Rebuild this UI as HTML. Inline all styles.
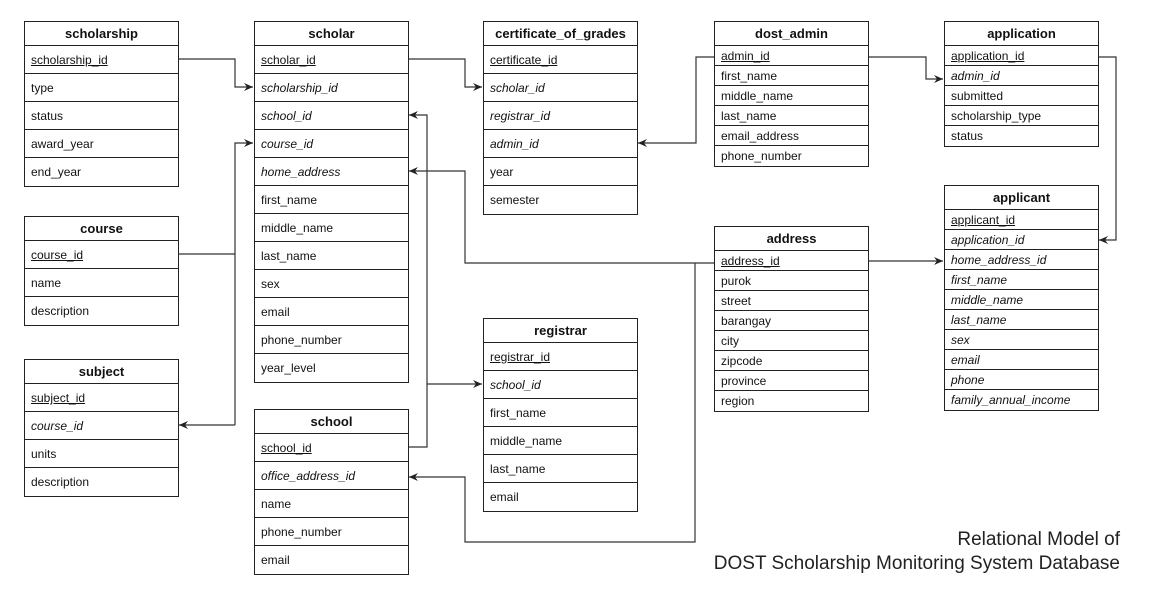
<!DOCTYPE html>
<html><head><meta charset="utf-8"><style>
body{margin:0;width:1151px;height:599px;background:#fff;position:relative;overflow:hidden;font-family:"Liberation Sans",Arial,sans-serif;color:#111}
.t{position:absolute;border:1px solid #222;box-sizing:border-box;background:#fff}
.h{height:24px;line-height:24px;text-align:center;font-weight:bold;font-size:13px;border-bottom:1px solid #222;box-sizing:border-box}
.r{box-sizing:border-box;border-bottom:1px solid #222;padding-left:6px;font-size:12px}
.r:last-child{border-bottom:none}
.k{text-decoration:underline}
.i{font-style:italic}
svg{position:absolute;left:0;top:0}
.title{position:absolute;right:31px;top:528px;text-align:right;font-size:19px;line-height:24px;color:#222}
</style></head><body>
<svg width="1151" height="599">
<defs><marker id="a" markerWidth="10" markerHeight="10" refX="9" refY="5" orient="auto" markerUnits="userSpaceOnUse"><path d="M0,1 L9,5 L0,9 L3,5 Z" fill="#222"/></marker></defs>
<g fill="none" stroke="#333" stroke-width="1.2">
<path d="M178,59 H235 V87 H253" marker-end="url(#a)"/>
<path d="M178,254 H235"/>
<path d="M235,425 V143 H253" marker-end="url(#a)"/>
<path d="M235,425 H179" marker-end="url(#a)"/>
<path d="M408,59 H465 V87 H482" marker-end="url(#a)"/>
<path d="M714,57 H696 V143 H638" marker-end="url(#a)"/>
<path d="M868,57 H926 V79 H943" marker-end="url(#a)"/>
<path d="M1098,57 H1116 V240 H1099" marker-end="url(#a)"/>
<path d="M868,261 H943" marker-end="url(#a)"/>
<path d="M714,263 H465 V171 H409" marker-end="url(#a)"/>
<path d="M695,263 V542 H465 V477 H409" marker-end="url(#a)"/>
<path d="M408,447 H427 V115 H409" marker-end="url(#a)"/>
<path d="M427,384 H482" marker-end="url(#a)"/>
</g></svg>

<div class="t" style="left:24px;top:21px;width:155px">
<div class="h">scholarship</div>
<div class="r k" style="height:28px;line-height:28px">scholarship_id</div>
<div class="r" style="height:28px;line-height:28px">type</div>
<div class="r" style="height:28px;line-height:28px">status</div>
<div class="r" style="height:28px;line-height:28px">award_year</div>
<div class="r" style="height:28px;line-height:28px">end_year</div>
</div>

<div class="t" style="left:254px;top:21px;width:155px">
<div class="h">scholar</div>
<div class="r k" style="height:28px;line-height:28px">scholar_id</div>
<div class="r i" style="height:28px;line-height:28px">scholarship_id</div>
<div class="r i" style="height:28px;line-height:28px">school_id</div>
<div class="r i" style="height:28px;line-height:28px">course_id</div>
<div class="r i" style="height:28px;line-height:28px">home_address</div>
<div class="r" style="height:28px;line-height:28px">first_name</div>
<div class="r" style="height:28px;line-height:28px">middle_name</div>
<div class="r" style="height:28px;line-height:28px">last_name</div>
<div class="r" style="height:28px;line-height:28px">sex</div>
<div class="r" style="height:28px;line-height:28px">email</div>
<div class="r" style="height:28px;line-height:28px">phone_number</div>
<div class="r" style="height:28px;line-height:28px">year_level</div>
</div>

<div class="t" style="left:483px;top:21px;width:155px">
<div class="h">certificate_of_grades</div>
<div class="r k" style="height:28px;line-height:28px">certificate_id</div>
<div class="r i" style="height:28px;line-height:28px">scholar_id</div>
<div class="r i" style="height:28px;line-height:28px">registrar_id</div>
<div class="r i" style="height:28px;line-height:28px">admin_id</div>
<div class="r" style="height:28px;line-height:28px">year</div>
<div class="r" style="height:28px;line-height:28px">semester</div>
</div>

<div class="t" style="left:714px;top:21px;width:155px">
<div class="h">dost_admin</div>
<div class="r k" style="height:20px;line-height:20px">admin_id</div>
<div class="r" style="height:20px;line-height:20px">first_name</div>
<div class="r" style="height:20px;line-height:20px">middle_name</div>
<div class="r" style="height:20px;line-height:20px">last_name</div>
<div class="r" style="height:20px;line-height:20px">email_address</div>
<div class="r" style="height:20px;line-height:20px">phone_number</div>
</div>

<div class="t" style="left:944px;top:21px;width:155px">
<div class="h">application</div>
<div class="r k" style="height:20px;line-height:20px">application_id</div>
<div class="r i" style="height:20px;line-height:20px">admin_id</div>
<div class="r" style="height:20px;line-height:20px">submitted</div>
<div class="r" style="height:20px;line-height:20px">scholarship_type</div>
<div class="r" style="height:20px;line-height:20px">status</div>
</div>

<div class="t" style="left:944px;top:185px;width:155px">
<div class="h">applicant</div>
<div class="r k" style="height:20px;line-height:20px">applicant_id</div>
<div class="r i" style="height:20px;line-height:20px">application_id</div>
<div class="r i" style="height:20px;line-height:20px">home_address_id</div>
<div class="r i" style="height:20px;line-height:20px">first_name</div>
<div class="r i" style="height:20px;line-height:20px">middle_name</div>
<div class="r i" style="height:20px;line-height:20px">last_name</div>
<div class="r i" style="height:20px;line-height:20px">sex</div>
<div class="r i" style="height:20px;line-height:20px">email</div>
<div class="r i" style="height:20px;line-height:20px">phone</div>
<div class="r i" style="height:20px;line-height:20px">family_annual_income</div>
</div>

<div class="t" style="left:714px;top:226px;width:155px">
<div class="h">address</div>
<div class="r k" style="height:20px;line-height:20px">address_id</div>
<div class="r" style="height:20px;line-height:20px">purok</div>
<div class="r" style="height:20px;line-height:20px">street</div>
<div class="r" style="height:20px;line-height:20px">barangay</div>
<div class="r" style="height:20px;line-height:20px">city</div>
<div class="r" style="height:20px;line-height:20px">zipcode</div>
<div class="r" style="height:20px;line-height:20px">province</div>
<div class="r" style="height:20px;line-height:20px">region</div>
</div>

<div class="t" style="left:24px;top:216px;width:155px">
<div class="h">course</div>
<div class="r k" style="height:28px;line-height:28px">course_id</div>
<div class="r" style="height:28px;line-height:28px">name</div>
<div class="r" style="height:28px;line-height:28px">description</div>
</div>

<div class="t" style="left:24px;top:359px;width:155px">
<div class="h">subject</div>
<div class="r k" style="height:28px;line-height:28px">subject_id</div>
<div class="r i" style="height:28px;line-height:28px">course_id</div>
<div class="r" style="height:28px;line-height:28px">units</div>
<div class="r" style="height:28px;line-height:28px">description</div>
</div>

<div class="t" style="left:254px;top:409px;width:155px">
<div class="h">school</div>
<div class="r k" style="height:28px;line-height:28px">school_id</div>
<div class="r i" style="height:28px;line-height:28px">office_address_id</div>
<div class="r" style="height:28px;line-height:28px">name</div>
<div class="r" style="height:28px;line-height:28px">phone_number</div>
<div class="r" style="height:28px;line-height:28px">email</div>
</div>

<div class="t" style="left:483px;top:318px;width:155px">
<div class="h">registrar</div>
<div class="r k" style="height:28px;line-height:28px">registrar_id</div>
<div class="r i" style="height:28px;line-height:28px">school_id</div>
<div class="r" style="height:28px;line-height:28px">first_name</div>
<div class="r" style="height:28px;line-height:28px">middle_name</div>
<div class="r" style="height:28px;line-height:28px">last_name</div>
<div class="r" style="height:28px;line-height:28px">email</div>
</div>

<div class="title">Relational Model of<br>DOST Scholarship Monitoring System Database</div>
</body></html>
